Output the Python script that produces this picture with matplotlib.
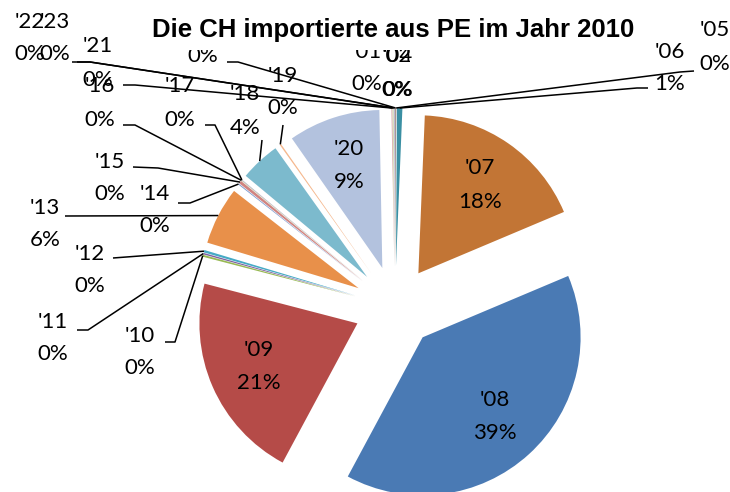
import numpy as np
import matplotlib.pyplot as plt

# Import shares by year (percent)
years = ["'01", "'02", "'03", "'04", "'05", "'06", "'07", "'08", "'09", "'10", "'11", "'12",
         "'13", "'14", "'15", "'16", "'17", "'18", "'19", "'20", "'21", "'22", "'23"]
shares = [0.02, 0.02, 0.02, 0.02, 0.02, 0.55, 18.0, 39.2, 21.2, 0.2, 0.15, 0.25,
          5.9, 0.1, 0.3, 0.05, 0.05, 4.1, 0.15, 9.4, 0.1, 0.1, 0.1]
colors = ['#b65708', '#2c4d75', '#772c2a', '#5f7530', '#4d3b62', '#3a8fa3',
          '#c27535', '#4a7ab4', '#b54b48', '#98b954', '#7d60a0', '#46aac5',
          '#e8904a', '#7e9ccf', '#d08481', '#b3cd85', '#a290b7', '#7cbacd',
          '#f5b88e', '#b3c2de', '#d9a5a4', '#c9daa9', '#b9adce']

title = 'Die CH importierte aus PE im Jahr 2010'

# pixel layout of the pie: centre and radius
CX, CY, R = 395, 307, 158
W, H = 730, 492


def to_data(x, y):
    return ((x - CX) / R, (CY - y) / R)


# labels drawn inside the big slices
inside = ["'07", "'08", "'09", "'20"]

# outside labels: text centre (px), leader start/elbow points (px)
outside = {
    "'01": ((367, 68), []),
    "'02": ((397, 73), []),
    "'04": ((398, 73), []),
    "'03": ((203, 40), [(227, 62), (238, 62)]),
    "'05": ((715, 47), [(694, 71), (680, 72)]),
    "'06": ((670, 68), [(648, 88), (637, 88)]),
    "'21": ((98, 63), [(123, 85), (135, 85)]),
    "'22": ((30, 38), [(72, 62), (90, 62)]),
    "'23": ((55, 38), [(77, 62), (90, 62)]),
    "'16": ((100, 103), [(123, 125), (135, 125)]),
    "'17": ((180, 103), [(205, 125), (215, 125)]),
    "'18": ((245, 111), [(262, 140)]),
    "'19": ((283, 92), [(283, 125)]),
    "'15": ((110, 178), [(133, 167), (158, 168)]),
    "'14": ((155, 210), [(178, 203), (190, 203)]),
    "'13": ((45, 224), [(65, 216)]),
    "'12": ((90, 270), [(113, 258)]),
    "'11": ((53, 338), [(77, 330), (88, 330)]),
    "'10": ((140, 352), [(165, 342), (175, 342)]),
}

fig = plt.figure(figsize=(W / 100, H / 100), dpi=100)
ax = fig.add_axes([0, 0, 1, 1])

wedges, _ = ax.pie(shares, colors=colors, startangle=90, counterclock=False,
                   explode=[41 / R] * len(shares), radius=1,
                   wedgeprops=dict(linewidth=0))
ax.set_xlim(-CX / R, (W - CX) / R)
ax.set_ylim(-(H - CY) / R, CY / R)
ax.axis('off')

font = dict(family=['Lato', 'DejaVu Sans'], fontsize=16, color='black')
total = sum(shares)

for w, name, v in zip(wedges, years, shares):
    pct = '%d%%' % round(v / total * 100)
    mid = np.deg2rad((w.theta1 + w.theta2) / 2)
    cx, cy = w.center
    if name in inside:
        lx, ly = cx + 0.68 * np.cos(mid), cy + 0.68 * np.sin(mid)
        ax.text(lx, ly + 0.105, name, ha='center', va='center', **font)
        ax.text(lx, ly - 0.105, pct, ha='center', va='center', **font)
    elif name in outside:
        (tx, ty), pts = outside[name]
        n1 = to_data(tx, ty - 16.5)
        n2 = to_data(tx, ty + 16.5)
        ax.text(*n1, name, ha='center', va='center', **font)
        ax.text(*n2, pct, ha='center', va='center', **font)
        if pts:
            tip = (cx + np.cos(mid), cy + np.sin(mid))
            line = [to_data(*p) for p in pts] + [tip]
            xs, ys = zip(*line)
            ax.plot(xs, ys, color='black', lw=1.1, solid_capstyle='butt')

fig.text(393 / W, 1 - 30 / H, title, ha='center', va='center',
         family='Liberation Sans', fontweight='bold', fontsize=18.5,
         bbox=dict(boxstyle='square,pad=0.3', facecolor='white', edgecolor='none'))

fig.savefig('out.png', dpi=100)
